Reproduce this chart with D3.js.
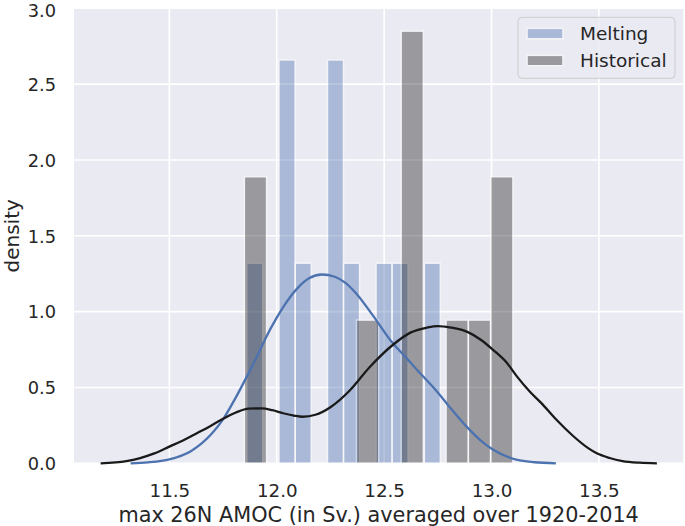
<!DOCTYPE html>
<html><head><meta charset="utf-8">
<script src="https://cdn.jsdelivr.net/npm/d3@7"></script>
<style>
body{margin:0;background:#fff}
svg{display:block}
text{font-family:"DejaVu Sans",sans-serif;fill:#262626}
</style>
</head><body>
<svg id="c" width="685" height="526"></svg>
<script>
// ---- data ----
const xTicks = [11.5, 12.0, 12.5, 13.0, 13.5];
const yTicks = [0.0, 0.5, 1.0, 1.5, 2.0, 2.5, 3.0];
const seriesNames = ["Melting", "Historical"];

const meltingEdges = [11.860, 11.935, 12.010, 12.086, 12.161, 12.236, 12.311, 12.386, 12.462, 12.537, 12.612, 12.687, 12.762];
const meltingDensity = [1.32, 0, 2.66, 1.32, 0, 2.66, 1.32, 0, 1.32, 1.32, 0, 1.32];

const historicalEdges = [11.849, 11.953, 12.058, 12.162, 12.266, 12.371, 12.475, 12.579, 12.683, 12.788, 12.892, 12.996, 13.100];
const historicalDensity = [1.89, 0, 0, 0, 0, 0.945, 0, 2.85, 0, 0.945, 0.945, 1.89];

const meltingKdeX = [11.32, 11.40, 11.50, 11.60, 11.70, 11.75, 11.80, 11.86, 11.92, 11.95, 12.00, 12.03, 12.10, 12.15, 12.21, 12.27, 12.32, 12.37, 12.45, 12.53, 12.60, 12.67, 12.73, 12.80, 12.885, 12.95, 13.01, 13.12, 13.20, 13.30];
const meltingKdeY = [0.0, 0.006, 0.026, 0.08, 0.20, 0.29, 0.41, 0.57, 0.74, 0.83, 0.96, 1.03, 1.16, 1.22, 1.245, 1.23, 1.19, 1.12, 0.97, 0.81, 0.70, 0.59, 0.50, 0.38, 0.24, 0.15, 0.088, 0.022, 0.007, 0.0];

const historicalKdeX = [11.18, 11.30, 11.36, 11.43, 11.50, 11.57, 11.63, 11.69, 11.74, 11.81, 11.87, 11.93, 11.98, 12.03, 12.08, 12.12, 12.18, 12.25, 12.34, 12.43, 12.54, 12.62, 12.70, 12.75, 12.81, 12.89, 12.95, 13.01, 13.07, 13.12, 13.18, 13.23, 13.30, 13.38, 13.45, 13.49, 13.55, 13.61, 13.69, 13.77];
const historicalKdeY = [0.0, 0.015, 0.033, 0.065, 0.11, 0.155, 0.20, 0.245, 0.285, 0.335, 0.36, 0.362, 0.35, 0.33, 0.315, 0.307, 0.32, 0.37, 0.48, 0.63, 0.78, 0.86, 0.895, 0.905, 0.895, 0.865, 0.815, 0.745, 0.665, 0.57, 0.47, 0.40, 0.29, 0.18, 0.10, 0.066, 0.035, 0.015, 0.004, 0.0];

// ---- layout ----
const svg = d3.select("#c");
const L = 74, R = 683.3, T = 8.3, B = 463.3;
const x = d3.scaleLinear().domain([11.056, 13.893]).range([L, R]);
const y = d3.scaleLinear().domain([0, 3]).range([B, T]);

svg.append("rect").attr("x", L).attr("y", T).attr("width", R - L).attr("height", B - T).attr("fill", "#eaeaf2");

// grid
const grid = svg.append("g");
grid.selectAll(".gx").data(xTicks).join("line")
  .attr("x1", d => x(d)).attr("x2", d => x(d)).attr("y1", T).attr("y2", B)
  .attr("stroke", "#fff").attr("stroke-width", 1.6);
grid.selectAll(".gy").data(yTicks).join("line")
  .attr("x1", L).attr("x2", R).attr("y1", d => y(d)).attr("y2", d => y(d))
  .attr("stroke", "#fff").attr("stroke-width", 1.6);

// axes (labels only)
const xAxis = d3.axisBottom(x).tickValues(xTicks).tickFormat(d3.format(".1f")).tickSize(0).tickPadding(0);
const gx = svg.append("g").attr("transform", `translate(0,${B})`).call(xAxis);
gx.select(".domain").remove();
gx.selectAll("text").attr("y", 34).attr("dy", null).style("font-size", "18.3px")
  .style("font-family", '"DejaVu Sans",sans-serif').attr("fill", "#262626");

const yAxis = d3.axisLeft(y).tickValues(yTicks).tickFormat(d3.format(".1f")).tickSize(0).tickPadding(0);
const gy = svg.append("g").attr("transform", `translate(${L},0)`).call(yAxis);
gy.select(".domain").remove();
gy.selectAll("text").attr("x", -18).attr("dy", "0.35em").style("font-size", "17.8px")
  .style("font-family", '"DejaVu Sans",sans-serif').attr("fill", "#262626")
  .attr("y", d => d === 3 ? 2.2 : 0);

// histograms
function bars(edges, dens, color) {
  const data = dens.map((d, i) => ({x0: edges[i], x1: edges[i + 1], d})).filter(b => b.d > 0);
  svg.append("g").selectAll("rect").data(data).join("rect")
    .attr("x", b => x(b.x0)).attr("width", b => x(b.x1) - x(b.x0))
    .attr("y", b => y(b.d)).attr("height", b => y(0) - y(b.d))
    .attr("fill", color).attr("stroke", "#fff").attr("stroke-width", 1.6)
    .attr("opacity", 0.4);
}
bars(meltingEdges, meltingDensity, "#4c72b0");
bars(historicalEdges, historicalDensity, "#222222");

// KDE lines
const line = d3.line().x(d => x(d[0])).y(d => y(d[1])).curve(d3.curveMonotoneX);
svg.append("path").datum(d3.zip(meltingKdeX, meltingKdeY)).attr("d", line)
  .attr("fill", "none").attr("stroke", "#4c72b0").attr("stroke-width", 2.3);
svg.append("path").datum(d3.zip(historicalKdeX, historicalKdeY)).attr("d", line)
  .attr("fill", "none").attr("stroke", "#1a1a1a").attr("stroke-width", 2.3);

// axis labels
svg.append("text").attr("x", (L + R) / 2).attr("y", 522).attr("text-anchor", "middle")
  .style("font-size", "20.8px").text("max 26N AMOC (in Sv.) averaged over 1920-2014");
svg.append("text").attr("transform", `translate(19,${(T + B) / 2}) rotate(-90)`).attr("text-anchor", "middle")
  .style("font-size", "20px").text("density");

// legend
const lg = svg.append("g");
lg.append("rect").attr("x", 518).attr("y", 17.3).attr("width", 157).attr("height", 61).attr("rx", 4)
  .attr("fill", "#eaeaf2").attr("fill-opacity", 0.8).attr("stroke", "#cccccc").attr("stroke-width", 1);
const lcolors = ["#4c72b0", "#222222"];
seriesNames.forEach((n, i) => {
  const yy = 28.3 + i * 27;
  lg.append("rect").attr("x", 527).attr("y", yy).attr("width", 36).attr("height", 10.5)
    .attr("fill", lcolors[i]).attr("opacity", 0.4).attr("stroke", "#fff").attr("stroke-width", 1.6);
  lg.append("text").attr("x", 580).attr("y", yy + 5.25).attr("dy", "0.35em")
    .style("font-size", "18.5px").text(n);
});
</script>
</body></html>
